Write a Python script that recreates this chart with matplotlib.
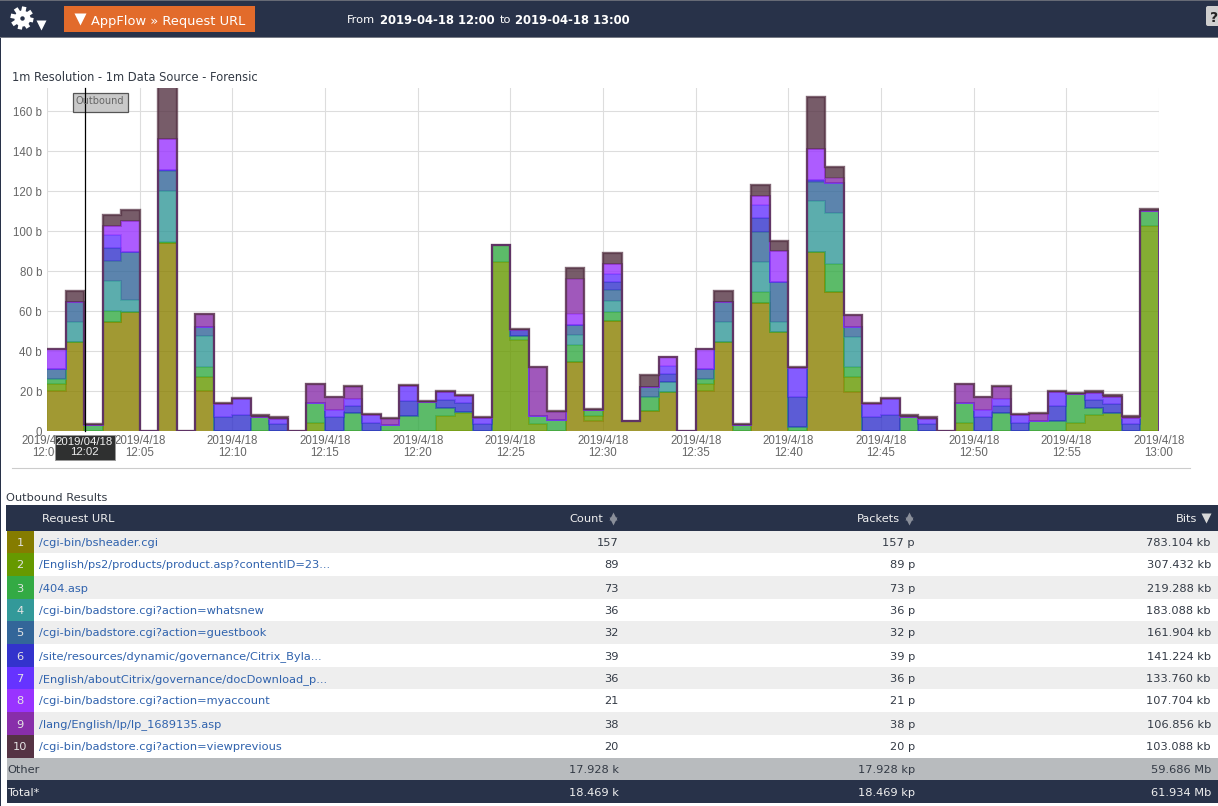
import matplotlib
matplotlib.use('Agg')
import matplotlib.pyplot as plt
import numpy as np
from matplotlib.patches import Rectangle, FancyBboxPatch

W, H = 1218, 806

# ============ DATA ============
minutes = list(range(61))  # bin edges, minutes after 12:00

s1 = [20, 44.5, 0, 54.5, 59.7, 0, 94, 0, 20, 0, 0, 0, 0, 0, 0, 0, 0, 0, 0, 0,
      0, 0, 0, 0, 0, 0, 0, 0, 34.7, 4.8, 55, 4.8, 9.8, 19.5, 0, 20, 44.5, 0, 64, 49.3,
      0, 89.3, 69.3, 19.7, 0, 0, 0, 0, 0, 0, 0, 0, 0, 0, 0, 0, 0, 0, 0, 0]
s2 = [3.3, 0, 0, 0, 0, 0, 0, 0, 7, 0, 0, 0, 0, 0, 4, 0, 0, 0, 0, 0,
      0, 7.5, 8.8, 0, 84.7, 45.5, 3.5, 0, 0, 2.5, 0, 0, 0, 0, 0, 3.3, 0, 0, 0, 0,
      0, 0, 0, 7.1, 0, 0, 0, 0, 0, 4, 0, 0, 0, 0, 0, 4.2, 8, 9.2, 0, 102.5]
s3 = [2.5, 0, 3, 5.5, 0, 0, 0.7, 0, 5, 0, 0, 7.2, 0, 0, 10, 0, 9, 0, 3, 7.3,
      14.3, 3.8, 0.9, 0, 8.3, 2, 4.2, 5.7, 8.3, 3, 4.7, 0, 7.2, 0, 0, 2.5, 0, 3, 5.7, 0,
      2.2, 0, 14.2, 5, 0, 0, 7.2, 0, 0, 10, 0, 9, 0, 5, 5.2, 14.3, 3.3, 0, 0, 7.7]
s4 = [0, 10, 0, 15, 5.6, 0, 25.3, 0, 15.5, 0, 0, 0, 0, 0, 0, 0, 0, 0, 0, 0,
      0, 0, 0, 0, 0, 0, 0, 0, 5, 0, 5.3, 0, 0, 5, 0, 0, 10, 0, 15, 5.4,
      0, 25.9, 25.3, 15.4, 0, 0, 0, 0, 0, 0, 0, 0, 0, 0, 0, 0, 0, 0, 0, 0]
s5 = [5, 10, 0, 10, 24.2, 0, 10, 0, 4.5, 0, 0, 0, 0, 0, 0, 0, 0, 0, 0, 0,
      0, 0, 0, 0, 0, 0, 0, 0, 5, 0, 5.3, 0, 5, 0, 0, 5, 10, 0, 15, 19.6,
      0, 9.5, 15, 4.6, 0, 0, 0, 0, 0, 0, 0, 0, 0, 0, 0, 0, 0, 0, 0, 0]
s6 = [0, 0, 0, 6.5, 0, 0, 0.3, 0, 0, 7, 8, 0, 3.3, 0, 0, 7, 3.5, 4, 0, 7.7,
      0, 4.2, 4.3, 3.3, 0, 3, 0, 0, 0, 0, 4.2, 0, 0, 4, 0, 0, 0, 0, 6.6, 0,
      15, 0.8, 0, 0, 7, 8, 0, 3.3, 0, 0, 7, 3.5, 4, 0, 7.5, 0, 4.2, 4.3, 3.5, 0]
s7 = [0, 0, 0, 6.5, 0, 0, 0, 0, 0, 6.7, 8.2, 0, 2.9, 0, 0, 3.3, 3.5, 4, 0, 7.3,
      0, 4, 3.5, 3, 0, 0, 0, 0, 0, 0, 4.2, 0, 0, 3.8, 0, 0, 0, 0, 6.7, 0,
      14.1, 0, 0, 0, 6.7, 8.2, 0, 2.9, 0, 0, 3.3, 3.5, 4, 0, 7, 0, 3.7, 3.7, 3, 0]
s8 = [10.3, 0, 0, 4.5, 15.5, 0, 15.5, 0, 0, 0, 0, 0, 0, 0, 0, 0, 0, 0, 0, 0,
      0, 0, 0, 0, 0, 0, 0, 0, 5.5, 0, 5, 0, 0, 4.7, 0, 10.3, 0, 0, 4.7, 15.7,
      0, 15.3, 0, 0, 0, 0, 0, 0, 0, 0, 0, 0, 0, 0, 0, 0, 0, 0, 0, 0]
s9 = [0, 0, 0, 0, 0, 0, 0, 0, 6.3, 0, 0, 0, 0, 0, 9.3, 6.5, 6, 0, 3.2, 0,
      0, 0, 0, 0, 0, 0, 24.3, 3.8, 17.5, 0, 0, 0, 0, 0, 0, 0, 0, 0, 0, 0,
      0, 0, 2.5, 6.2, 0, 0, 0, 0, 0, 9.3, 6.5, 6, 0, 3.5, 0, 0, 0, 0, 0, 0]
s10 = [0, 5.5, 0.5, 5.5, 5.5, 0, 26.5, 0, 0, 0.3, 0.2, 0.6, 0.8, 0, 0, 0.3, 0.5, 0.7, 0.5, 0.5,
       0.7, 0.5, 0.5, 0.9, 0, 0.5, 0, 0.5, 5.5, 0.7, 5.3, 0.4, 5.8, 0, 0, 0, 5.5, 0.5, 5.3, 5.2,
       0.7, 26, 5.5, 0, 0.3, 0.2, 0.6, 0.8, 0, 0, 0.3, 0.5, 0.7, 0.5, 0.5, 0.5, 0.6, 0.6, 0.8, 0.8]
series = [s1, s2, s3, s4, s5, s6, s7, s8, s9, s10]

colors = ['#8a8000', '#669900', '#33aa44', '#339999', '#336699',
          '#3333cc', '#6633ff', '#9933ff', '#882eaa', '#553344']

y_ticks = [0, 20, 40, 60, 80, 100, 120, 140, 160]
y_labels = ['0', '20 b', '40 b', '60 b', '80 b', '100 b', '120 b', '140 b', '160 b']
x_ticks = [0, 5, 10, 15, 20, 25, 30, 35, 40, 45, 50, 55, 60]
x_times = ['12:00', '12:05', '12:10', '12:15', '12:20', '12:25', '12:30',
           '12:35', '12:40', '12:45', '12:50', '12:55', '13:00']

ranks = ['1', '2', '3', '4', '5', '6', '7', '8', '9', '10']
urls = ['/cgi-bin/bsheader.cgi',
        '/English/ps2/products/product.asp?contentID=23...',
        '/404.asp',
        '/cgi-bin/badstore.cgi?action=whatsnew',
        '/cgi-bin/badstore.cgi?action=guestbook',
        '/site/resources/dynamic/governance/Citrix_Byla...',
        '/English/aboutCitrix/governance/docDownload_p...',
        '/cgi-bin/badstore.cgi?action=myaccount',
        '/lang/English/lp/lp_1689135.asp',
        '/cgi-bin/badstore.cgi?action=viewprevious']
counts = ['157', '89', '73', '36', '32', '39', '36', '21', '38', '20']
packets = ['157 p', '89 p', '73 p', '36 p', '32 p', '39 p', '36 p', '21 p', '38 p', '20 p']
bits = ['783.104 kb', '307.432 kb', '219.288 kb', '183.088 kb', '161.904 kb',
        '141.224 kb', '133.760 kb', '107.704 kb', '106.856 kb', '103.088 kb']
cell_colors = ['#857c00', '#669900', '#33aa44', '#339999', '#336699',
               '#3333cc', '#6633ff', '#9933ff', '#882eaa', '#553344']

NAVY = '#283249'
ORANGE = '#e26b2b'
LINK = '#2f62ad'
TEXT = '#333a45'

fig = plt.figure(figsize=(W / 100, H / 100), dpi=100, facecolor='white')

# ============ PAGE CHROME (pixel coordinates) ============
page = fig.add_axes([0, 0, 1, 1])
page.set_xlim(0, W)
page.set_ylim(H, 0)
page.axis('off')


def box(x0, y0, x1, y1, color, **kw):
    page.add_patch(Rectangle((x0, y0), x1 - x0, y1 - y0, facecolor=color, edgecolor='none', **kw))


def label(x, y, s, size=8.2, color=TEXT, ha='left', **kw):
    page.text(x, y, s, fontsize=size, color=color, ha=ha, va='center_baseline', family='DejaVu Sans', **kw)


box(0, 0, 1.2, H, NAVY)
box(0, 0, W, 37, NAVY)
box(0, 0, W, 1, '#666a75')
box(0, 37, W, 38, '#777b85')

# gear icon + dropdown arrow
for a in np.deg2rad([0, 45, 90, 135]):
    dx, dy = 11.5 * np.cos(a + 0.2), 11.5 * np.sin(a + 0.2)
    page.plot([22 - dx, 22 + dx], [18 - dy, 18 + dy], color='white', lw=3.2, solid_capstyle='butt')
page.plot([22], [18], marker='o', ms=11.5, color='white', mec='none')
page.plot([22], [18], marker='o', ms=3.2, color=NAVY, mec='none')
page.plot([40.5], [25], marker='v', ms=7.5, color='white', mec='none')

# orange button
box(64, 6, 255, 32, ORANGE)
page.plot([80], [19], marker='v', ms=9, color='white', mec='none')
label(91, 19.5, 'AppFlow » Request URL', size=9.4, color='white')

# time range
label(347, 19, 'From', color='white')
label(380, 19, '2019-04-18 12:00', size=8.4, color='white', weight='bold')
label(500, 19, 'to', color='white')
label(515, 19, '2019-04-18 13:00', size=8.4, color='white', weight='bold')

# help button
page.add_patch(FancyBboxPatch((1208, 8), 14, 16, boxstyle='round,pad=2', facecolor='#cfcfcf', edgecolor='none'))
label(1213.7, 16, '?', size=10, color='#222222', ha='center', weight='bold')

label(12, 76, '1m Resolution - 1m Data Source - Forensic', size=8.3)

# separator under the chart
page.plot([12, 1190], [468, 468], color='#cccccc', lw=0.8)

# ============ TABLE ============
label(6, 497, 'Outbound Results')
box(6, 505, W, 531, NAVY)
label(42, 518, 'Request URL', color='#f0f0f0')
label(603, 518, 'Count', ha='right', color='#f0f0f0')
label(900, 518, 'Packets', ha='right', color='#f0f0f0')
label(1197, 518, 'Bits', ha='right', color='#f0f0f0')
for x in [613, 909]:
    page.plot([x], [515.5], marker='^', ms=6, color='#8a8f9a', mec='none')
    page.plot([x], [520.5], marker='v', ms=6, color='#8a8f9a', mec='none')
page.plot([1206], [518], marker='v', ms=6.5, color='#d8d8d8', mec='none')

row_edges = [531, 553, 576, 599, 621, 644, 667, 689, 712, 735, 758]
for i in range(10):
    y0, y1 = row_edges[i], row_edges[i + 1]
    yc = (y0 + y1) / 2
    if i % 2 == 0:
        box(7, y0, W, y1, '#eeeeee')
    box(7, y0, 34, y1, cell_colors[i])
    label(20, yc, ranks[i], ha='center', color='#e4e4e4')
    label(39, yc, urls[i], color=LINK)
    label(619, yc, counts[i], ha='right')
    label(915, yc, packets[i], ha='right')
    label(1211, yc, bits[i], ha='right')

box(7, 758, W, 780, '#b8bbbe')
label(7, 769, 'Other')
label(619, 769, '17.928 k', ha='right')
label(915, 769, '17.928 kp', ha='right')
label(1211, 769, '59.686 Mb', ha='right')

box(7, 780, W, 803, NAVY)
label(7, 792, 'Total*', color='#f0f0f0')
label(619, 792, '18.469 k', ha='right', color='#f0f0f0')
label(915, 792, '18.469 kp', ha='right', color='#f0f0f0')
label(1211, 792, '61.934 Mb', ha='right', color='#f0f0f0')

# ============ CHART ============
ax_left, ax_right, ax_top, ax_bottom = 47, 1159, 88, 431
ax = fig.add_axes([ax_left / W, 1 - ax_bottom / H, (ax_right - ax_left) / W, (ax_bottom - ax_top) / H])
ax.patch.set_alpha(0)
ax.set_xlim(0, 60)
ax.set_ylim(0, (ax_bottom - ax_top) / 2)
ax.set_axisbelow(True)
ax.grid(True, color='#dddddd', lw=0.8)
for sp in ax.spines.values():
    sp.set_visible(False)
ax.set_yticks(y_ticks, y_labels)
ax.set_xticks(x_ticks, ['2019/4/18\n' + t for t in x_times])
ax.tick_params(axis='both', length=0, labelsize=8.3, labelcolor='#666666', labelfontfamily='Liberation Sans')
ax.tick_params(axis='x', pad=3)
ax.tick_params(axis='y', pad=3.6)
for tl in ax.get_xticklabels():
    tl.set_linespacing(0.95)

# stacked step areas, each with its own line on top
bottom = np.zeros(60)
for values, c in zip(series, colors):
    top = bottom + np.array(values)
    ax.stairs(top, minutes, baseline=bottom, fill=True, color=c, alpha=0.8, lw=0)
    # the last line is the outline of the whole stack, so it sits darker
    line_alpha, line_w = (0.75, 1.7) if c == colors[-1] else (0.5, 1.4)
    ax.stairs(top, minutes, baseline=None, fill=False, color=c, alpha=line_alpha, lw=line_w)
    ax.vlines(60, 0, top[-1], color=c, alpha=0.5, lw=1.4)
    bottom = top

# crosshair and tooltips, placed at 12:02
over = fig.add_axes([0, 0, 1, 1])
over.set_xlim(0, W)
over.set_ylim(H, 0)
over.axis('off')
over.plot([84.5, 84.5], [88, 431], color='black', lw=0.9)
over.add_patch(Rectangle((72.5, 92.5), 55, 19, facecolor='#c9c9c9', edgecolor='#555555', lw=0.9))
over.text(100, 101.5, 'Outbound', fontsize=7, color='#666666', ha='center', va='center', family='DejaVu Sans')
over.add_patch(Rectangle((54.5, 434.5), 60, 25, facecolor='#2f3030', edgecolor='#999999', lw=0.7))
over.text(84.5, 447, '2019/04/18\n12:02', fontsize=8.2, color='#eeeeee', ha='center', va='center',
          family='Liberation Sans', linespacing=0.95)

fig.savefig('out.png', dpi=100)
